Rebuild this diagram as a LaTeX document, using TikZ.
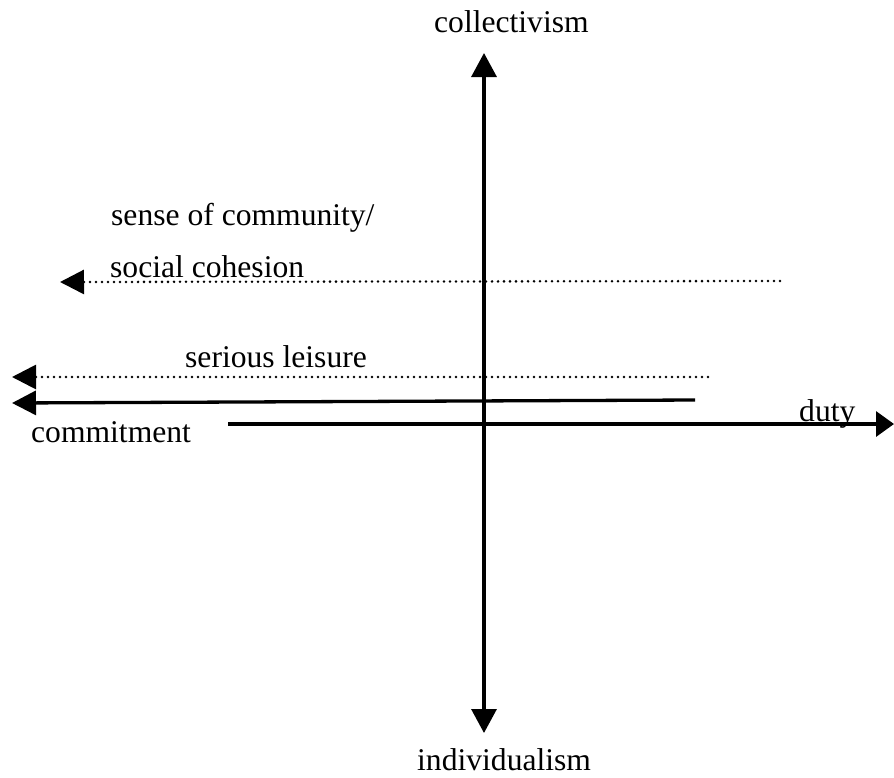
\documentclass[tikz,border=0pt]{standalone}
\usepackage{fontspec}
\setmainfont{Liberation Serif}
\usetikzlibrary{arrows.meta, positioning}

\begin{document}
\begin{tikzpicture}[x=1pt, y=-1pt,
    lbl/.style={inner sep=0pt, anchor=base west, font=\fontsize{31.6}{38}\selectfont},
    axis/.style={line width=3.3pt, -{Triangle[length=24pt, width=25pt]}},
    dotline/.style={line width=2.8pt, line cap=round, dash pattern=on 0pt off 6pt,
        -{Triangle[length=24pt, width=24pt]}}]
\useasboundingbox (0,0) rectangle (894,777);
% axes
\coordinate (top) at (484,53);
\coordinate (bottom) at (484,733);
\coordinate (mid) at (484,424);
\coordinate (dutyend) at (894,424);
\coordinate (axisstart) at (228,424);
\draw[axis] (mid) -- (top);
\draw[axis] (mid) -- (bottom);
\draw[line width=3.3pt, -{Triangle[length=18pt, width=25pt]}] (axisstart) -- (dutyend);

% labels
\node[lbl] (coll) at (434,32) {collectivism};
\node[lbl] (indiv) at (417,770) {individualism};
\node[lbl] (duty) at (799,421) {duty};
\node[lbl] (commit) at (31,442) {commitment};
\node[lbl] (sense) at (111,225) {sense of community/};
\node[lbl] (cohes) at (110,277) {social cohesion};
\node[lbl] (serious) at (185,367) {serious leisure};

% arrows to the left
\coordinate (cohR) at (780,281);
\coordinate (cohL) at (60,282);
\coordinate (serR) at (708,377);
\coordinate (serL) at (12,377);
\coordinate (comR) at (695,400);
\coordinate (comL) at (12,403);
\draw[dotline] (cohR) -- (cohL);
\draw[dotline] (serR) -- (serL);
\draw[line width=3.3pt, -{Triangle[length=24pt, width=24pt]}] (comR) -- (comL);
\end{tikzpicture}
\end{document}
